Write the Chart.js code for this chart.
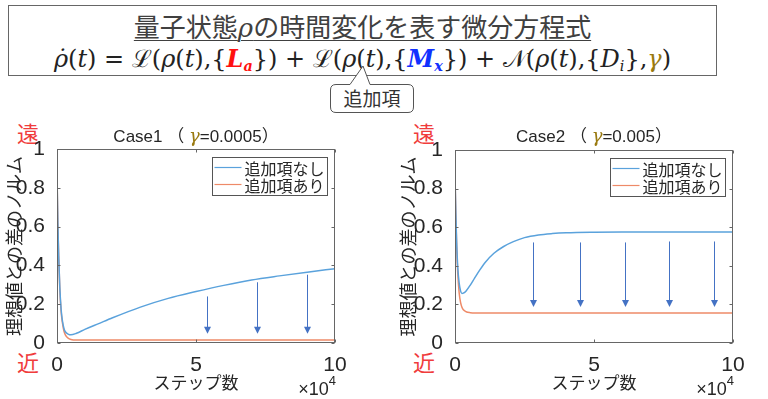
<!DOCTYPE html>
<html lang="ja">
<head>
<meta charset="utf-8">
<title>量子状態ρの時間変化を表す微分方程式</title>
<script src="https://cdn.jsdelivr.net/npm/chart.js@4"></script>
<style>
  body { margin: 0; background: #fff; }
  #page { position: relative; width: 768px; height: 399px; overflow: hidden; background: #fff;
          font-family: "Noto Sans CJK JP", sans-serif; color: #333; }
  .abs { position: absolute; }
  #eqbox { left: 8px; top: 5px; width: 709px; height: 71px; border: 1px solid #666; box-sizing: border-box; }
  #line1 { left: 0; top: 4px; width: 100%; text-align: center; font-size: 26px; line-height: 32px;
           text-decoration: underline; text-decoration-thickness: 1px; text-underline-offset: 3px; color: #404040; }
  #line2 { left: 0; top: 36px; width: 100%; text-align: center; font-family: "DejaVu Serif", serif;
           font-size: 24px; line-height: 34px; color: #222; white-space: nowrap; }
  .m { font-family: "DejaVu Serif", serif; font-style: italic; }
  .red { color: #ff1010; font-weight: bold; }
  .blue { color: #1030ff; font-weight: bold; }
  .olive { color: #9a7a10; }
  sub { font-size: 60%; vertical-align: -0.3em; }
  #callout { left: 325px; top: 62px; }
  #callText { left: 331px; top: 84px; width: 82px; height: 28px; text-align: center; font-size: 19px; line-height: 28px; color: #333; }
  .far, .near { color: #f03c3c; font-size: 22px; line-height: 24px; width: 24px; text-align: center; }
  canvas { display: block; }
</style>
</head>
<body>
<div id="page">
  <div id="eqbox" class="abs">
    <div id="line1" class="abs">量子状態<span class="m">ρ</span>の時間変化を表す微分方程式</div>
    <div id="line2" class="abs"><i>ρ̇</i>(<i>t</i>) = ℒ(<i>ρ</i>(<i>t</i>),{<i class="red">L<sub>a</sub></i>}) + ℒ(<i>ρ</i>(<i>t</i>),{<i class="blue">M<sub>x</sub></i>}) + 𝒩(<i>ρ</i>(<i>t</i>),{<i>D<sub>i</sub></i>},<i class="olive">γ</i>)</div>
  </div>
  <svg id="callout" class="abs" width="95" height="55">
    <path d="M 11 22.5 H 25 L 38 4 L 45 22.5 H 83 Q 88.5 22.5 88.5 28 V 45 Q 88.5 50.5 83 50.5 H 11 Q 5.5 50.5 5.5 45 V 28 Q 5.5 22.5 11 22.5 Z"
          fill="#fff" stroke="#555" stroke-width="1"/>
  </svg>
  <div id="callText" class="abs">追加項</div>

  <div class="abs far" style="left:16px; top:120px;">遠</div>
  <div class="abs near" style="left:16px; top:349px;">近</div>
  <div class="abs far" style="left:412px; top:120px;">遠</div>
  <div class="abs near" style="left:412px; top:349px;">近</div>

  <div class="abs" style="left:0; top:110px;"><canvas id="case1" width="380" height="289"></canvas></div>
  <div class="abs" style="left:380px; top:110px;"><canvas id="case2" width="388" height="289"></canvas></div>
</div>

<script>
// steps in units of 10^4
const case1Steps = [0, 0.03, 0.06, 0.1, 0.15, 0.2, 0.25, 0.3, 0.4, 0.5, 0.7, 1, 1.5, 2, 3, 4, 5, 6, 7, 8, 9, 10];
const case1Without = [0.87, 0.62, 0.45, 0.29, 0.17, 0.11, 0.075, 0.058, 0.046, 0.042, 0.05, 0.07, 0.1, 0.13, 0.185, 0.23, 0.265, 0.297, 0.325, 0.346, 0.365, 0.383];
const case1With = [0.87, 0.62, 0.45, 0.28, 0.16, 0.1, 0.062, 0.042, 0.025, 0.018, 0.015, 0.015, 0.015, 0.015, 0.015, 0.015, 0.015, 0.015, 0.015, 0.015, 0.015, 0.015];

const case2Steps = [0, 0.03, 0.06, 0.1, 0.15, 0.2, 0.25, 0.3, 0.4, 0.55, 0.7, 0.9, 1.1, 1.4, 1.75, 2.1, 2.5, 3, 3.5, 4, 5, 6, 7, 8, 9, 10];
const case2Without = [0.87, 0.67, 0.52, 0.39, 0.31, 0.27, 0.256, 0.258, 0.27, 0.3, 0.335, 0.38, 0.42, 0.465, 0.5, 0.525, 0.546, 0.56, 0.567, 0.571, 0.574, 0.575, 0.575, 0.575, 0.575, 0.575];
const case2With = [0.87, 0.66, 0.5, 0.36, 0.26, 0.21, 0.185, 0.172, 0.162, 0.157, 0.155, 0.155, 0.155, 0.155, 0.155, 0.155, 0.155, 0.155, 0.155, 0.155, 0.155, 0.155, 0.155, 0.155, 0.155, 0.155];

// improvement arrows (x, from, to)
const case1ArrowX = [5.4, 7.2, 9.0];
const case1ArrowFrom = [0.24, 0.313, 0.352];
const case1ArrowTo = [0.048, 0.048, 0.048];
const case2ArrowX = [2.8, 4.48, 6.12, 7.7, 9.3];
const case2ArrowFrom = [0.521, 0.521, 0.521, 0.526, 0.526];
const case2ArrowTo = [0.186, 0.186, 0.186, 0.186, 0.186];

const seriesLabels = ['追加項なし', '追加項あり'];
const xTickValues = [0, 5, 10];
const yTickValues = [0, 0.2, 0.4, 0.6, 0.8, 1];
const case1Gamma = '0.0005';
const case2Gamma = '0.005';

const blue = '#5aa2dc';
const orange = '#ee8a68';
const textColor = '#262626';
const frameColor = '#666';
const arrowColor = '#4472c4';
const gammaColor = '#9a7a10';
const latin = '"Liberation Sans", "Noto Sans CJK JP", sans-serif';
const cjk = '"Noto Sans CJK JP", sans-serif';

const decorPlugin = {
    id: 'decor',
    afterDatasetsDraw(chart, args, opts) {
        const { ctx, chartArea: a, scales: { x, y } } = chart;
        ctx.save();

        // frame + inward ticks
        ctx.strokeStyle = frameColor;
        ctx.lineWidth = 1;
        const L = Math.round(a.left) + 0.5, R = Math.round(a.right) - 0.5;
        const T = Math.round(a.top) + 0.5, B = Math.round(a.bottom) - 0.5;
        ctx.strokeRect(L, T, R - L, B - T);
        ctx.beginPath();
        yTickValues.forEach(v => {
            const py = Math.round(y.getPixelForValue(v)) + 0.5;
            ctx.moveTo(L, py); ctx.lineTo(L + 3, py);
            ctx.moveTo(R, py); ctx.lineTo(R - 3, py);
        });
        xTickValues.forEach(v => {
            const px = Math.round(x.getPixelForValue(v)) + 0.5;
            ctx.moveTo(px, B); ctx.lineTo(px, B - 3);
            ctx.moveTo(px, T); ctx.lineTo(px, T + 3);
        });
        ctx.stroke();

        // arrows
        ctx.strokeStyle = arrowColor;
        ctx.fillStyle = arrowColor;
        opts.arrowX.forEach((ax, i) => {
            const px = Math.round(x.getPixelForValue(ax)) + 0.5;
            const y1 = y.getPixelForValue(opts.arrowFrom[i]);
            const y2 = y.getPixelForValue(opts.arrowTo[i]);
            ctx.beginPath();
            ctx.moveTo(px, y1);
            ctx.lineTo(px, y2 - 5);
            ctx.stroke();
            ctx.beginPath();
            ctx.moveTo(px - 3.5, y2 - 7);
            ctx.lineTo(px + 3.5, y2 - 7);
            ctx.lineTo(px, y2);
            ctx.closePath();
            ctx.fill();
        });

        // legend box
        const lw = 115, lh = 38;
        const lx = Math.round(a.right - 8 - lw) + 0.5, ly = Math.round(a.top + 8) + 0.5;
        ctx.fillStyle = '#fff';
        ctx.fillRect(lx, ly, lw, lh);
        ctx.strokeStyle = '#555';
        ctx.strokeRect(lx, ly, lw, lh);
        ctx.font = '16px ' + cjk;
        ctx.textBaseline = 'middle';
        ctx.textAlign = 'left';
        chart.data.datasets.forEach((ds, i) => {
            const rowY = ly + 10 + i * 17;
            ctx.strokeStyle = ds.borderColor;
            ctx.lineWidth = 1.2;
            ctx.beginPath();
            ctx.moveTo(lx + 2, rowY);
            ctx.lineTo(lx + 29, rowY);
            ctx.stroke();
            ctx.fillStyle = textColor;
            ctx.fillText(ds.label, lx + 32, rowY + 1);
        });

        // title with coloured gamma
        const parts = [
            { t: opts.name + ' （ ', f: '17px ' + latin, c: textColor },
            { t: 'γ', f: 'italic 18px "DejaVu Serif", serif', c: gammaColor },
            { t: '=' + opts.gamma + '）', f: '17px ' + latin, c: textColor }
        ];
        let total = 0;
        parts.forEach(p => { ctx.font = p.f; p.w = ctx.measureText(p.t).width; total += p.w; });
        let tx = (a.left + a.right) / 2 - total / 2;
        ctx.textBaseline = 'middle';
        parts.forEach(p => {
            ctx.font = p.f;
            ctx.fillStyle = p.c;
            ctx.fillText(p.t, tx, 27);
            tx += p.w;
        });

        // x10^4 multiplier
        ctx.textBaseline = 'alphabetic';
        ctx.textAlign = 'right';
        ctx.fillStyle = textColor;
        ctx.font = '13px ' + latin;
        const expW = ctx.measureText('4').width;
        ctx.fillText('4', a.right + 1, 275);
        ctx.font = '18px ' + latin;
        ctx.fillText('×10', a.right + 1 - expW, 285);
        ctx.restore();
    }
};

function makeChart(id, steps, without, withTerm, cfg) {
    const ctx = document.getElementById(id).getContext('2d');
    return new Chart(ctx, {
        type: 'line',
        data: {
            datasets: [
                {
                    label: seriesLabels[0],
                    data: steps.map((s, i) => ({ x: s, y: without[i] })),
                    borderColor: blue,
                    borderWidth: 1.5,
                    pointRadius: 0,
                    cubicInterpolationMode: 'monotone'
                },
                {
                    label: seriesLabels[1],
                    data: steps.map((s, i) => ({ x: s, y: withTerm[i] })),
                    borderColor: orange,
                    borderWidth: 1.5,
                    pointRadius: 0,
                    cubicInterpolationMode: 'monotone'
                }
            ]
        },
        options: {
            responsive: false,
            animation: false,
            layout: { padding: cfg.padding },
            plugins: {
                legend: { display: false },
                tooltip: { enabled: false },
                decor: cfg.decor
            },
            scales: {
                x: {
                    type: 'linear',
                    min: 0,
                    max: 10,
                    afterBuildTicks: s => { s.ticks = xTickValues.map(v => ({ value: v })); },
                    afterFit: s => { s.height = 56; },
                    grid: { display: false },
                    border: { display: false },
                    ticks: { color: textColor, font: { size: 21, family: latin }, padding: 2, maxRotation: 0 },
                    title: { display: true, text: 'ステップ数', color: textColor,
                             font: { size: 17, family: cjk }, padding: { top: 0, bottom: 6 } }
                },
                y: {
                    min: 0,
                    max: 1,
                    afterBuildTicks: s => { s.ticks = yTickValues.map(v => ({ value: v })); },
                    afterFit: s => { s.width = cfg.yWidth; },
                    grid: { display: false },
                    border: { display: false },
                    ticks: { color: textColor, font: { size: 21, family: latin }, padding: 4,
                             callback: v => String(Math.round(v * 10) / 10) },
                    title: { display: true, text: '理想値との差のノルム', color: textColor,
                             font: { size: 18, family: cjk }, padding: { top: 3, bottom: 0 } }
                }
            }
        },
        plugins: [decorPlugin]
    });
}

makeChart('case1', case1Steps, case1Without, case1With, {
    padding: { left: 0, top: 39, right: 45, bottom: 0 },
    yWidth: 57,
    decor: { name: 'Case1', gamma: case1Gamma, arrowX: case1ArrowX, arrowFrom: case1ArrowFrom, arrowTo: case1ArrowTo }
});

makeChart('case2', case2Steps, case2Without, case2With, {
    padding: { left: 14, top: 40, right: 35, bottom: 0 },
    yWidth: 61,
    decor: { name: 'Case2', gamma: case2Gamma, arrowX: case2ArrowX, arrowFrom: case2ArrowFrom, arrowTo: case2ArrowTo }
});
</script>
</body>
</html>
